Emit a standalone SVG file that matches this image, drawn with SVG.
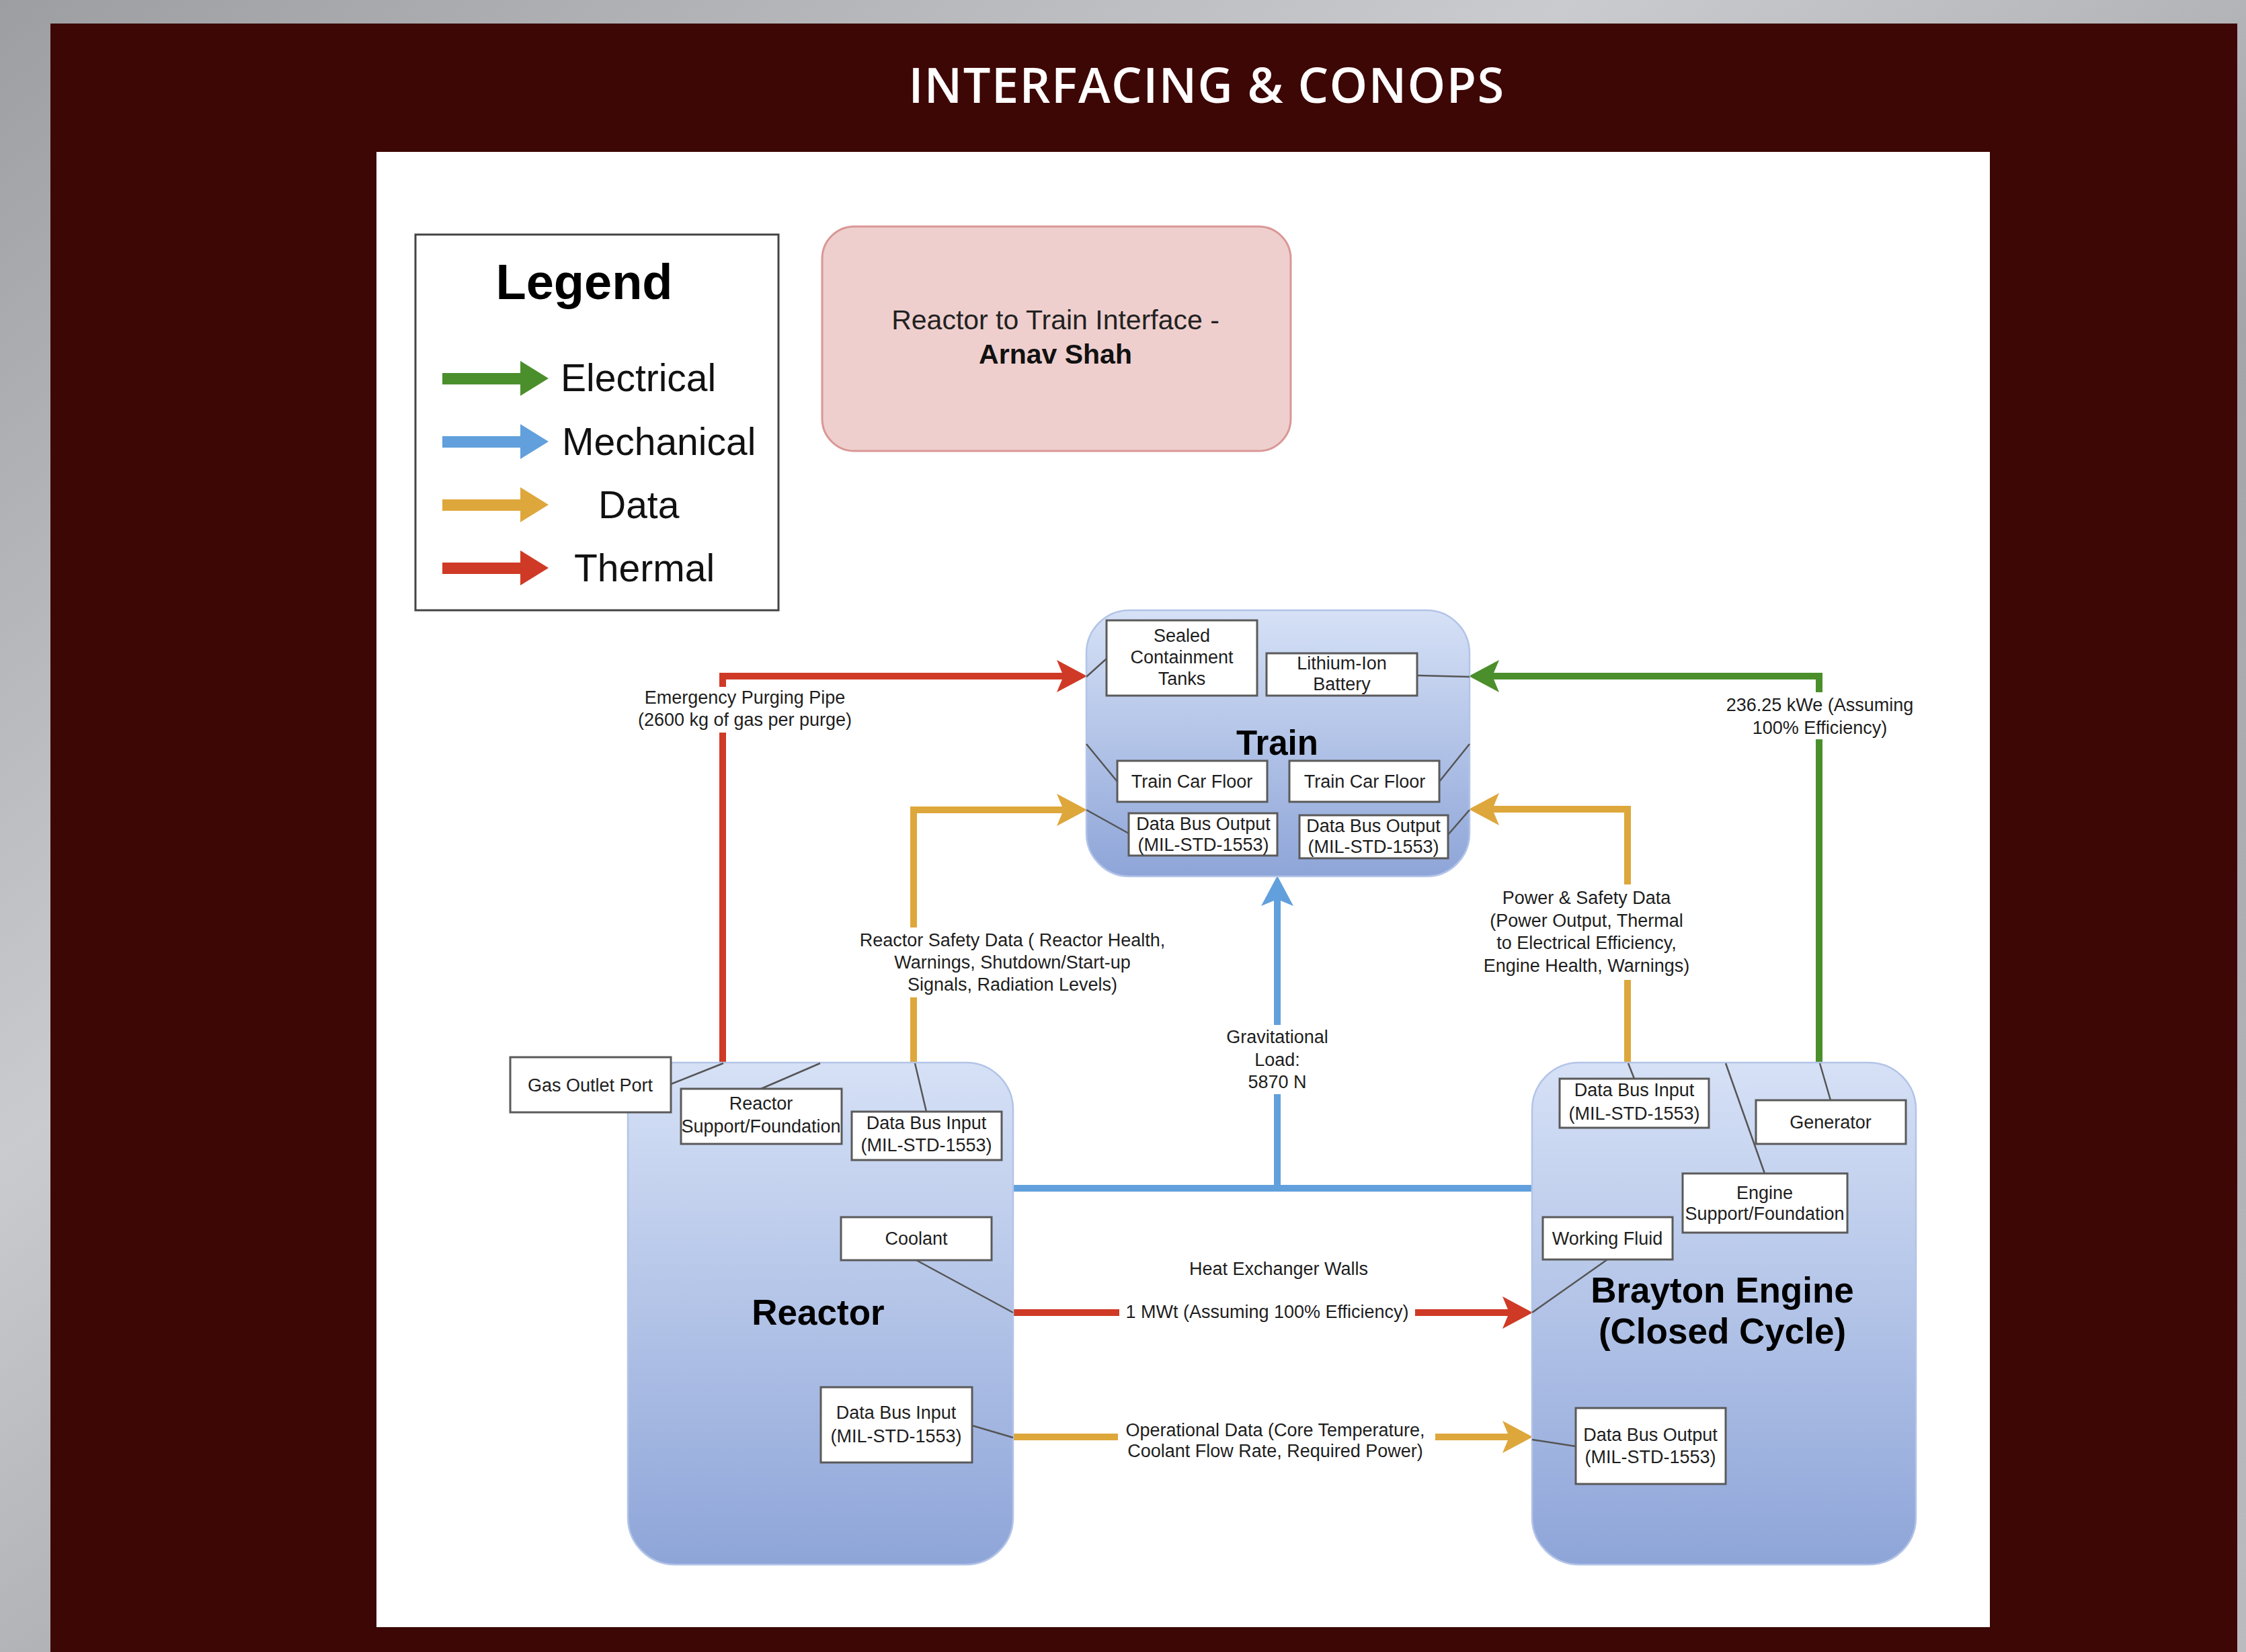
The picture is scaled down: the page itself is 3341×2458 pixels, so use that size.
<svg xmlns="http://www.w3.org/2000/svg" width="3341" height="2458" viewBox="0 0 3341 2458">
<defs>
<linearGradient id="bgGray" x1="0" y1="0" x2="1" y2="1">
<stop offset="0" stop-color="#9c9ea2"/><stop offset="0.35" stop-color="#c9cbce"/><stop offset="0.6" stop-color="#a3a5a9"/><stop offset="1" stop-color="#b9bbbe"/>
</linearGradient>
<linearGradient id="nodeFill" x1="0" y1="0" x2="0" y2="1">
<stop offset="0" stop-color="#d6e1f6"/><stop offset="1" stop-color="#8ea5d8"/>
</linearGradient>
<marker id="ahRed" markerUnits="userSpaceOnUse" markerWidth="46" markerHeight="48" viewBox="0 0 46 48" refX="10" refY="24" orient="auto"><path d="M0,0 L45,24 L0,48 L10,24 Z" fill="#cf3a26"/></marker>
<marker id="ahGreen" markerUnits="userSpaceOnUse" markerWidth="46" markerHeight="48" viewBox="0 0 46 48" refX="10" refY="24" orient="auto"><path d="M0,0 L45,24 L0,48 L10,24 Z" fill="#4b8f2c"/></marker>
<marker id="ahYellow" markerUnits="userSpaceOnUse" markerWidth="46" markerHeight="48" viewBox="0 0 46 48" refX="10" refY="24" orient="auto"><path d="M0,0 L45,24 L0,48 L10,24 Z" fill="#dea73c"/></marker>
<marker id="ahBlue" markerUnits="userSpaceOnUse" markerWidth="46" markerHeight="48" viewBox="0 0 46 48" refX="10" refY="24" orient="auto"><path d="M0,0 L45,24 L0,48 L10,24 Z" fill="#61a0dc"/></marker>
</defs>
<style>
.node{fill:url(#nodeFill);stroke:#b3c4e8;stroke-width:2.5}
.box{fill:#ffffff;stroke:#5a5a5a;stroke-width:3}
.t{font-family:"Liberation Sans",Arial,sans-serif;font-size:27px;fill:#1e1e1e;text-anchor:middle}
.lbl{font-family:"Liberation Sans",Arial,sans-serif;font-size:27px;fill:#1e1e1e;text-anchor:middle}
.title{font-family:"Liberation Sans",Arial,sans-serif;font-weight:bold;fill:#000;text-anchor:middle}
.thin{fill:none;stroke:#555;stroke-width:2.5}
.c{fill:none;stroke-width:10}
.red{stroke:#cf3a26}.green{stroke:#4b8f2c}.yellow{stroke:#dea73c}.blue{stroke:#61a0dc}
.bg{fill:#ffffff}
.leg{font-family:"Liberation Sans",Arial,sans-serif;font-size:57px;fill:#111}
</style>
<rect x="0" y="0" width="3341" height="2458" fill="url(#bgGray)"/>
<rect x="75" y="35" width="3253" height="2423" fill="#3d0705"/>
<text x="1795" y="153" font-family="'Open Sans','Noto Sans',sans-serif" font-size="72" font-weight="600" letter-spacing="1.5" fill="#ffffff" text-anchor="middle">INTERFACING &amp; CONOPS</text>
<rect x="560" y="226" width="2400" height="2195" fill="#ffffff"/>

<g id="legend">
<rect x="618" y="349" width="540" height="559" fill="#ffffff" stroke="#444" stroke-width="3"/>
<text x="869" y="445" class="title" font-size="74">Legend</text>
<g>
<rect x="658" y="555" width="118" height="17" fill="#4b8f2c"/><polygon points="774,537 816,563 774,589" fill="#4b8f2c"/>
<text x="834" y="582" class="leg">Electrical</text>
<rect x="658" y="649" width="118" height="17" fill="#61a0dc"/><polygon points="774,631 816,657 774,683" fill="#61a0dc"/>
<text x="836" y="677" class="leg">Mechanical</text>
<rect x="658" y="743" width="118" height="17" fill="#dea73c"/><polygon points="774,725 816,751 774,777" fill="#dea73c"/>
<text x="890" y="771" class="leg">Data</text>
<rect x="658" y="837" width="118" height="17" fill="#cf3a26"/><polygon points="774,819 816,845 774,871" fill="#cf3a26"/>
<text x="854" y="865" class="leg">Thermal</text>
</g>
</g>

<g id="interface-note">
<rect x="1223" y="337" width="697" height="334" rx="48" ry="48" fill="#eecfcd" stroke="#d99795" stroke-width="3"/>
<text x="1570" y="490" font-family="'Liberation Sans',Arial,sans-serif" font-size="41" fill="#222" text-anchor="middle">Reactor to Train Interface -</text>
<text x="1570" y="541" font-family="'Liberation Sans',Arial,sans-serif" font-size="41" font-weight="bold" fill="#111" text-anchor="middle">Arnav Shah</text>
</g>

<g id="connectors">
<path class="c red" d="M1075,1582 V1006 H1582" marker-end="url(#ahRed)"/>
<path class="c green" d="M2706,1582 V1006 H2220" marker-end="url(#ahGreen)"/>
<path class="c yellow" d="M1359,1582 V1205 H1582" marker-end="url(#ahYellow)"/>
<path class="c yellow" d="M2421,1582 V1204 H2220" marker-end="url(#ahYellow)"/>
<path class="c blue" d="M1507,1768 H2279"/>
<path class="c blue" d="M1900,1768 V1338" marker-end="url(#ahBlue)"/>
<path class="c red" d="M1507,1953 H2245" marker-end="url(#ahRed)"/>
<path class="c yellow" d="M1507,2138 H2245" marker-end="url(#ahYellow)"/>

<rect class="bg" x="940" y="1022" width="340" height="68"/>
<text class="lbl" x="1108" y="1047">Emergency Purging Pipe</text>
<text class="lbl" x="1108" y="1080">(2600 kg of gas per purge)</text>

<rect class="bg" x="2555" y="1030" width="305" height="70"/>
<text class="lbl" x="2707" y="1058">236.25 kWe (Assuming</text>
<text class="lbl" x="2707" y="1092">100% Efficiency)</text>

<rect class="bg" x="2195" y="1316" width="335" height="142"/>
<text class="lbl" x="2360" y="1345">Power &amp; Safety Data</text>
<text class="lbl" x="2360" y="1379">(Power Output, Thermal</text>
<text class="lbl" x="2360" y="1412">to Electrical Efficiency,</text>
<text class="lbl" x="2360" y="1446">Engine Health, Warnings)</text>

<rect class="bg" x="1262" y="1380" width="488" height="104"/>
<text class="lbl" x="1506" y="1408">Reactor Safety Data ( Reactor Health,</text>
<text class="lbl" x="1506" y="1441">Warnings, Shutdown/Start-up</text>
<text class="lbl" x="1506" y="1474">Signals, Radiation Levels)</text>

<rect class="bg" x="1815" y="1525" width="170" height="103"/>
<text class="lbl" x="1900" y="1552">Gravitational</text>
<text class="lbl" x="1900" y="1586">Load:</text>
<text class="lbl" x="1900" y="1619">5870 N</text>

<text class="lbl" x="1902" y="1897">Heat Exchanger Walls</text>
<rect class="bg" x="1665" y="1934" width="440" height="36"/>
<text class="lbl" x="1885" y="1961">1 MWt (Assuming 100% Efficiency)</text>

<rect class="bg" x="1663" y="2112" width="472" height="66"/>
<text class="lbl" x="1897" y="2137">Operational Data (Core Temperature,</text>
<text class="lbl" x="1897" y="2168">Coolant Flow Rate, Required Power)</text>
</g>

<g id="train">
<rect class="node" x="1616" y="908" width="570" height="396" rx="64" ry="64"/>
<text class="title" x="1900" y="1123" font-size="51">Train</text>
<line class="thin" x1="1616" y1="1007" x2="1646" y2="980"/>
<line class="thin" x1="2108" y1="1005" x2="2186" y2="1007"/>
<line class="thin" x1="1616" y1="1107" x2="1662" y2="1163"/>
<line class="thin" x1="2186" y1="1107" x2="2141" y2="1163"/>
<line class="thin" x1="1616" y1="1205" x2="1679" y2="1240"/>
<line class="thin" x1="2186" y1="1205" x2="2154" y2="1242"/>
<g id="train-tanks"><rect class="box" x="1646" y="923" width="224" height="112"/>
<text class="t" x="1758" y="955">Sealed</text><text class="t" x="1758" y="987">Containment</text><text class="t" x="1758" y="1019">Tanks</text></g>
<g id="train-battery"><rect class="box" x="1884" y="972" width="224" height="63"/>
<text class="t" x="1996" y="996">Lithium-Ion</text><text class="t" x="1996" y="1027">Battery</text></g>
<g id="train-floor-1"><rect class="box" x="1662" y="1132" width="223" height="61"/>
<text class="t" x="1773" y="1172">Train Car Floor</text></g>
<g id="train-floor-2"><rect class="box" x="1918" y="1132" width="223" height="61"/>
<text class="t" x="2030" y="1172">Train Car Floor</text></g>
<g id="train-bus-1"><rect class="box" x="1679" y="1210" width="221" height="63"/>
<text class="t" x="1790" y="1235">Data Bus Output</text><text class="t" x="1790" y="1266">(MIL-STD-1553)</text></g>
<g id="train-bus-2"><rect class="box" x="1933" y="1213" width="221" height="64"/>
<text class="t" x="2043" y="1238">Data Bus Output</text><text class="t" x="2043" y="1269">(MIL-STD-1553)</text></g>
</g>

<g id="reactor">
<rect class="node" x="934" y="1581" width="573" height="747" rx="70" ry="70"/>
<text class="title" x="1217" y="1971" font-size="53">Reactor</text>
<line class="thin" x1="998" y1="1613" x2="1076" y2="1582"/>
<line class="thin" x1="1132" y1="1620" x2="1220" y2="1582"/>
<line class="thin" x1="1378" y1="1654" x2="1361" y2="1582"/>
<line class="thin" x1="1363" y1="1875" x2="1507" y2="1953"/>
<line class="thin" x1="1446" y1="2121" x2="1507" y2="2139"/>
<g id="reactor-gas-port"><rect class="box" x="759" y="1573" width="239" height="82"/>
<text class="t" x="878" y="1624">Gas Outlet Port</text></g>
<g id="reactor-support"><rect class="box" x="1013" y="1620" width="239" height="82"/>
<text class="t" x="1132" y="1651">Reactor</text><text class="t" x="1132" y="1685">Support/Foundation</text></g>
<g id="reactor-bus-in-1"><rect class="box" x="1267" y="1654" width="223" height="72"/>
<text class="t" x="1378" y="1680">Data Bus Input</text><text class="t" x="1378" y="1713">(MIL-STD-1553)</text></g>
<g id="reactor-coolant"><rect class="box" x="1251" y="1811" width="224" height="64"/>
<text class="t" x="1363" y="1852">Coolant</text></g>
<g id="reactor-bus-in-2"><rect class="box" x="1221" y="2064" width="225" height="112"/>
<text class="t" x="1333" y="2111">Data Bus Input</text><text class="t" x="1333" y="2146">(MIL-STD-1553)</text></g>
</g>

<g id="brayton">
<rect class="node" x="2279" y="1581" width="571" height="747" rx="70" ry="70"/>
<text class="title" x="2562" y="1938" font-size="53">Brayton Engine</text>
<text class="title" x="2562" y="1999" font-size="53">(Closed Cycle)</text>
<line class="thin" x1="2431" y1="1605" x2="2422" y2="1582"/>
<line class="thin" x1="2723" y1="1637" x2="2707" y2="1582"/>
<line class="thin" x1="2625" y1="1746" x2="2567" y2="1582"/>
<line class="thin" x1="2391" y1="1874" x2="2279" y2="1953"/>
<line class="thin" x1="2344" y1="2152" x2="2279" y2="2142"/>
<g id="brayton-bus-in"><rect class="box" x="2320" y="1605" width="222" height="73"/>
<text class="t" x="2431" y="1631">Data Bus Input</text><text class="t" x="2431" y="1666">(MIL-STD-1553)</text></g>
<g id="brayton-generator"><rect class="box" x="2612" y="1637" width="223" height="65"/>
<text class="t" x="2723" y="1679">Generator</text></g>
<g id="brayton-support"><rect class="box" x="2503" y="1746" width="245" height="88"/>
<text class="t" x="2625" y="1784">Engine</text><text class="t" x="2625" y="1815">Support/Foundation</text></g>
<g id="brayton-fluid"><rect class="box" x="2295" y="1811" width="193" height="63"/>
<text class="t" x="2391" y="1852">Working Fluid</text></g>
<g id="brayton-bus-out"><rect class="box" x="2344" y="2095" width="223" height="113"/>
<text class="t" x="2455" y="2144">Data Bus Output</text><text class="t" x="2455" y="2177">(MIL-STD-1553)</text></g>
</g>
</svg>
